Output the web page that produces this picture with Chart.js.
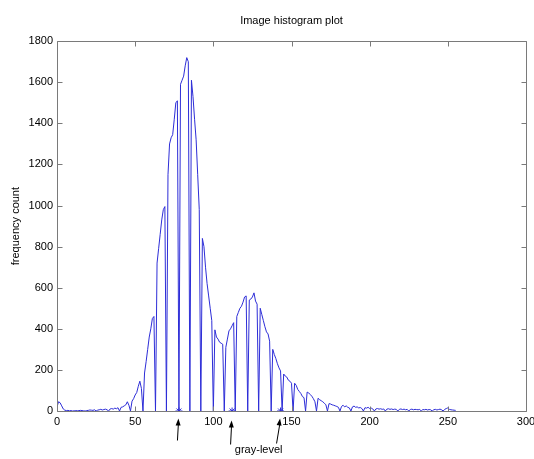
<!DOCTYPE html>
<html>
<head>
<meta charset="utf-8">
<script src="https://cdn.jsdelivr.net/npm/chart.js@4.4.0/dist/chart.umd.min.js"></script>
<style>
  html, body { margin: 0; padding: 0; background: #fff; }
  #wrap { width: 534px; height: 459px; }
</style>
</head>
<body>
<div id="wrap"><canvas id="histChart" width="534" height="459"></canvas></div>
<script>
// histogram counts for gray levels 0..255
const counts = [
  20, 45, 40, 25, 10, 4, 2, 3, 1, 2,
  0, 1, 2, 1, 2, 3, 2, 1, 0, 2,
  3, 5, 4, 3, 6, 0, 4, 6, 8, 5,
  7, 9, 6, 0, 10, 12, 9, 14, 11, 16,
  0, 18, 20, 25, 30, 45, 28, 0, 48, 60,
  78, 90, 120, 145, 110, 0, 185, 240, 300, 360,
  400, 450, 460, 0, 720, 790, 860, 930, 980, 995,
  0, 1150, 1300, 1330, 1345, 1420, 1500, 1510, 0, 1590,
  1610, 1630, 1680, 1720, 1700, 0, 1610, 1530, 1420, 1320,
  1150, 980, 0, 840, 800, 700, 620, 560, 500, 440,
  0, 395, 360, 350, 335, 330, 325, 0, 310, 350,
  390, 400, 415, 430, 0, 460, 480, 500, 510, 530,
  555, 560, 0, 540, 545, 555, 575, 535, 520, 0,
  500, 470, 440, 410, 385, 375, 340, 0, 300, 275,
  255, 230, 210, 195, 0, 180, 170, 165, 150, 145,
  135, 0, 135, 125, 105, 95, 85, 70, 65, 0,
  92, 88, 80, 72, 60, 45, 0, 62, 55, 50,
  45, 38, 30, 0, 36, 34, 30, 28, 25, 22,
  18, 0, 22, 28, 20, 25, 18, 15, 0, 20,
  24, 18, 20, 15, 17, 12, 0, 16, 14, 18,
  12, 14, 10, 0, 10, 12, 9, 11, 8, 10,
  0, 9, 11, 8, 10, 7, 9, 8, 0, 8,
  10, 7, 9, 6, 8, 0, 7, 9, 6, 8,
  7, 6, 8, 0, 7, 6, 8, 5, 7, 6,
  0, 6, 8, 5, 7, 9, 6, 0, 8, 12,
  15, 8, 6, 5, 4, 3
]

// threshold gray levels marked with stars
const thresholds = [78, 112, 143]

const xTickValues = [0, 50, 100, 150, 200, 250, 300]
const yTickValues = [0, 200, 400, 600, 800, 1000, 1200, 1400, 1600, 1800]

const histPoints = counts.map((c, i) => ({ x: i, y: c }))
const starPoints = thresholds.map(t => ({ x: t, y: 0 }))

// matlab style box, inward ticks, arrows and xlabel
const matlabAxes = {
  id: 'matlabAxes',
  afterDraw(chart) {
    const { ctx, chartArea: a } = chart
    const x = chart.scales.x
    const y = chart.scales.y
    ctx.save()
    ctx.strokeStyle = '#7a7a7a'
    ctx.lineWidth = 1
    const L = Math.round(a.left) + 0.5
    const R = Math.round(a.right) + 0.5
    const T = Math.round(a.top) + 0.5
    const B = Math.round(a.bottom) + 0.5
    ctx.beginPath()
    ctx.rect(L, T, R - L, B - T)
    xTickValues.forEach(v => {
      const px = Math.round(x.getPixelForValue(v)) + 0.5
      ctx.moveTo(px, B); ctx.lineTo(px, B - 5)
      ctx.moveTo(px, T); ctx.lineTo(px, T + 5)
    })
    yTickValues.forEach(v => {
      const py = Math.round(y.getPixelForValue(v)) + 0.5
      ctx.moveTo(L, py); ctx.lineTo(L + 5, py)
      ctx.moveTo(R, py); ctx.lineTo(R - 5, py)
    })
    ctx.stroke()

    // arrows pointing at the thresholds
    const tilt = [1, 1, 3.5]
    const len = [22, 24, 25]
    ctx.strokeStyle = '#000'
    ctx.fillStyle = '#000'
    thresholds.forEach((t, i) => {
      const tipX = x.getPixelForValue(t) - 0.5
      const tipY = B + 7 + (i === 1 ? 2 : 0)
      const tailX = tipX - tilt[i]
      const tailY = tipY + len[i]
      ctx.beginPath()
      ctx.moveTo(tailX, tailY)
      ctx.lineTo(tipX, tipY + 4)
      ctx.stroke()
      const ang = Math.atan2(tipY - tailY, tipX - tailX)
      ctx.beginPath()
      ctx.moveTo(tipX, tipY)
      ctx.lineTo(tipX - 7 * Math.cos(ang) + 2.5 * Math.sin(ang), tipY - 7 * Math.sin(ang) - 2.5 * Math.cos(ang))
      ctx.lineTo(tipX - 7 * Math.cos(ang) - 2.5 * Math.sin(ang), tipY - 7 * Math.sin(ang) + 2.5 * Math.cos(ang))
      ctx.closePath()
      ctx.fill()
    })

    ctx.font = '11px "Liberation Sans", Arial, sans-serif'
    ctx.textAlign = 'center'
    ctx.textBaseline = 'middle'
    ctx.fillText('gray-level', x.getPixelForValue(129), 450)
    ctx.restore()
  }
}

const createChart = () => {
  const ctx = document.getElementById('histChart')
  Chart.defaults.font.family = '"Liberation Sans", Arial, sans-serif'
  Chart.defaults.font.size = 11
  Chart.defaults.color = '#000'

  new Chart(ctx, {
    type: 'line',
    data: {
      datasets: [{
        label: 'histogram',
        data: histPoints,
        borderColor: 'rgb(45, 45, 215)',
        borderWidth: 1,
        pointRadius: 0,
        tension: 0,
        fill: false
      }, {
        type: 'scatter',
        label: 'thresholds',
        data: starPoints,
        pointStyle: 'star',
        pointRadius: 3.5,
        borderColor: 'rgb(45, 45, 215)',
        borderWidth: 1,
        showLine: false
      }]
    },
    options: {
      responsive: false,
      animation: false,
      layout: { padding: { top: 0, right: 8, bottom: 0, left: 0 } },
      plugins: {
        legend: { display: false },
        tooltip: { enabled: false },
        title: {
          display: true,
          text: 'Image histogram plot',
          fullSize: false,
          font: { size: 11, weight: 'normal' },
          color: '#000',
          padding: { top: 14, bottom: 14 }
        }
      },
      scales: {
        x: {
          type: 'linear',
          min: 0,
          max: 300,
          grid: { display: false, drawTicks: false },
          border: { display: false },
          ticks: { autoSkip: false, maxRotation: 0, padding: 4, color: '#000', callback: v => String(v) },
          afterBuildTicks: s => { s.ticks = xTickValues.map(v => ({ value: v })) },
          afterFit: s => { s.height = 48; s.paddingLeft = 0; s.paddingRight = 0 }
        },
        y: {
          type: 'linear',
          min: 0,
          max: 1800,
          grid: { display: false, drawTicks: false },
          border: { display: false },
          ticks: { autoSkip: false, padding: 4, color: '#000', callback: v => String(v) },
          title: {
            display: true,
            text: 'frequency count',
            font: { size: 11 },
            color: '#000',
            padding: { top: 9, bottom: 0 }
          },
          afterBuildTicks: s => { s.ticks = yTickValues.map(v => ({ value: v })) },
          afterFit: s => { s.width = 57; s.paddingTop = 0; s.paddingBottom = 0 }
        }
      }
    },
    plugins: [matlabAxes]
  })
}

createChart()
</script>
</body>
</html>
